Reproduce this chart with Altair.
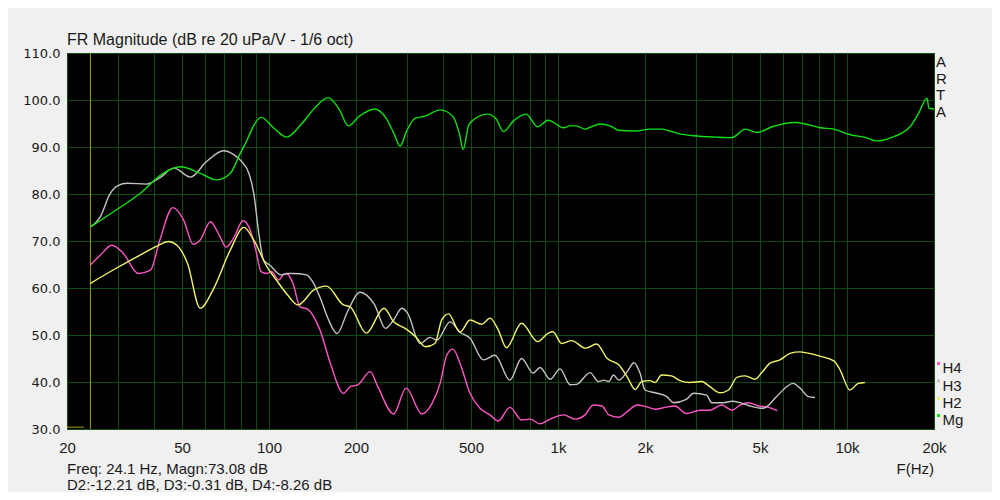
import altair as alt
import pandas as pd

W, H = 867, 376

# ---------------- data ----------------
mg_f = [24.1, 29.6, 35.8, 43, 49.4, 57.8, 66, 73.5, 79.6, 84, 88, 94, 104, 115, 130, 145, 160, 175, 188,
        205, 232, 255, 270, 284, 300, 320, 345, 391, 433, 455, 470, 490, 508, 570, 610, 648, 700, 775,
        850, 925, 1045, 1100, 1155, 1240, 1291, 1398, 1514, 1639, 1850, 2081, 2284, 2441, 2643, 2945,
        3540, 4000, 4450, 4880, 5510, 6600, 7060, 8070, 9000, 10280, 11650, 12650, 14090, 16520, 17700,
        18930, 19200, 19740, 20000]
mg_db = [73.0, 76.6, 80.1, 84.4, 85.8, 84.4, 83.0, 84.4, 88.7, 91.5, 94.3, 96.3, 94.0, 92.1, 95.0, 98.5,
         100.5, 98.0, 94.5, 96.5, 98.1, 96.0, 93.0, 90.2, 93.5, 96.1, 96.5, 97.9, 96.5, 93.0, 89.5, 94.5,
         95.7, 97.0, 96.0, 93.3, 95.5, 97.0, 94.3, 95.7, 94.1, 94.5, 94.5, 93.8, 94.2, 94.9, 94.5, 93.5,
         93.4, 93.8, 93.8, 93.4, 92.8, 92.4, 92.1, 92.0, 93.8, 93.1, 94.3, 95.2, 95.0, 94.1, 93.8, 92.6,
         92.0, 91.3, 91.9, 94.3, 97.2, 100.4, 98.2, 98.2, 97.9]

h3_f = [24.1, 26.1, 28.2, 30, 32.3, 37.7, 42, 46.9, 53.5, 60.8, 69.6, 75, 79.6, 85.2, 88.6, 92.2, 95.7,
        100.5, 110, 116, 121, 135, 141, 150, 160, 172, 187, 206, 232, 253, 270, 288, 302, 333, 361, 381,
        423, 458, 496, 552, 605, 682, 748, 820, 867, 939, 1017, 1101, 1160, 1291, 1380, 1440, 1500, 1555,
        1625, 1735, 1832, 1922, 2000, 2200, 2380, 2510, 2780, 2945, 3270, 3400, 3730, 4000, 4264, 4618,
        5130, 5710, 6180, 6500, 6877, 7350, 7750]
h3_db = [73.0, 75.2, 80.1, 81.8, 82.3, 82.1, 83.5, 85.5, 83.6, 86.9, 89.2, 88.5, 87.2, 84.4, 80.1, 71.6,
         66.0, 64.9, 62.8, 63.1, 63.1, 62.8, 61.5, 58.1, 53.5, 50.3, 55.0, 59.1, 56.4, 51.4, 53.2, 55.7,
         54.6, 48.2, 49.5, 48.9, 52.8, 50.6, 49.3, 44.7, 45.7, 40.4, 45.0, 41.9, 43.1, 40.6, 42.8, 39.4,
         39.5, 42.0, 40.1, 40.4, 40.1, 41.5, 40.4, 42.2, 44.1, 41.9, 38.3, 37.6, 36.9, 35.6, 36.3, 37.6,
         37.2, 35.6, 35.6, 35.9, 35.6, 34.9, 34.4, 36.9, 39.0, 39.7, 38.7, 36.9, 36.7]

h4_f = [24.1, 26.1, 28.6, 31.3, 35.3, 38.9, 41.9, 46.5, 50.6, 54.7, 57.8, 62.7, 67.7, 71, 75.8, 81.3, 86.1,
        90, 93.8, 98.4, 102, 108, 112, 115, 121, 128, 136, 150, 163, 181, 191, 203, 224, 238, 270, 298, 338,
        367, 391, 412, 433, 458, 496, 537, 582, 621, 682, 748, 800, 867, 939, 1045, 1150, 1240, 1325, 1420,
        1500, 1625, 1735, 1880, 2030, 2170, 2350, 2540, 2780, 3100, 3357, 3680, 4000, 4264, 4560, 4940,
        5270, 5740]
h4_db = [64.9, 67.0, 69.1, 67.4, 63.1, 63.8, 70.2, 77.1, 74.5, 69.3, 70.2, 74.1, 70.9, 68.7, 70.9, 74.3,
         72.3, 68.1, 63.5, 63.1, 63.5, 61.7, 62.8, 63.1, 61.0, 56.0, 55.5, 51.1, 44.0, 37.6, 39.0, 39.4,
         42.2, 39.0, 33.2, 38.7, 33.2, 35.5, 39.7, 45.7, 47.0, 44.0, 37.6, 34.4, 33.0, 31.7, 34.6, 31.9,
         32.1, 31.1, 32.1, 33.0, 32.1, 33.0, 35.1, 34.9, 33.0, 32.5, 33.7, 35.1, 34.7, 34.2, 34.6, 34.9,
         33.3, 34.0, 34.0, 35.1, 34.0, 35.1, 35.6, 34.9, 34.7, 33.9]

h2_f = [24.1, 29.6, 35.8, 41, 44.9, 48, 52.2, 57.8, 64, 73.5, 81.8, 88.6, 98.4, 106, 116, 126, 143, 158,
        181, 191, 217, 250, 270, 296, 322, 348, 375, 396, 418, 458, 496, 545, 582, 621, 663, 748, 850, 925,
        960, 1030, 1115, 1245, 1360, 1480, 1625, 1735, 1850, 1950, 2081, 2170, 2280, 2470, 2643, 2863,
        3140, 3357, 3636, 3890, 4160, 4450, 4810, 5070, 5415, 5864, 6351, 6877, 7250, 8066, 9000, 9460,
        10230, 10940, 11530]
h2_db = [61.0, 64.2, 67.0, 68.9, 69.9, 69.1, 65.3, 55.7, 59.6, 68.1, 72.9, 70.2, 64.5, 61.7, 58.5, 56.4,
         59.6, 60.4, 56.4, 56.0, 50.4, 55.7, 52.8, 51.4, 49.6, 47.5, 48.2, 53.2, 54.5, 50.6, 53.2, 52.3,
         53.6, 51.1, 47.3, 52.5, 48.6, 50.4, 50.7, 48.2, 48.8, 47.2, 48.1, 45.0, 43.6, 41.1, 38.4, 40.1,
         40.3, 39.9, 41.5, 41.3, 40.3, 39.9, 40.1, 39.0, 37.7, 38.3, 41.0, 41.3, 40.6, 42.0, 44.0, 44.7,
         46.1, 46.4, 46.2, 45.5, 44.5, 42.6, 38.3, 39.7, 39.9]

series_names = ["H4", "H3", "H2", "Mg"]
series_colors = ["#ff55c8", "#c4c4c4", "#f4f46a", "#10e010"]

grid_freqs = [20, 30, 40, 50, 60, 70, 80, 90, 100, 200, 300, 400, 500, 600, 700, 800, 900,
              1000, 2000, 3000, 4000, 5000, 6000, 7000, 8000, 9000, 10000, 20000]
x_label_vals = [20, 50, 100, 200, 500, 1000, 2000, 5000, 10000, 20000]
y_vals = [30, 40, 50, 60, 70, 80, 90, 100, 110]

cursor_f = [24.1]
corner_seg = {"f": [20], "f2": [22.9], "db": [30.4]}

title_text = "FR Magnitude (dB re 20 uPa/V - 1/6 oct)"
status1 = "Freq: 24.1 Hz, Magn:73.08 dB"
status2 = "D2:-12.21 dB, D3:-0.31 dB, D4:-8.26 dB"
xunit = "F(Hz)"
brand = "A\nR\nT\nA"

# ---------------- build ----------------
rows = []
for name, fs, ds in [("H4", h4_f, h4_db), ("H3", h3_f, h3_db), ("H2", h2_f, h2_db), ("Mg", mg_f, mg_db)]:
    for f, d in zip(fs, ds):
        rows.append({"s": name, "f": f, "db": d})
df = pd.DataFrame(rows)

FONT = "Liberation Sans"
TXT = "#1a1a1a"
GRID = "#0f4a10"

xscale = alt.Scale(type="log", domain=[20, 20000], nice=False)
yscale = alt.Scale(domain=[30, 110], nice=False, zero=False)

label_list = "[" + ",".join(str(v) for v in x_label_vals) + "]"
X_AX = alt.Axis(values=grid_freqs, title=None, grid=True, gridColor=GRID, gridOpacity=1, gridWidth=1,
                ticks=False, tickSize=0, domain=False, labelFont=FONT, labelFontSize=15, labelColor=TXT,
                labelBaseline="middle", labelPadding=18, labelFlush=False, labelOverlap=False,
                labelExpr="indexof(" + label_list + ", datum.value) >= 0 ? "
                          "(datum.value >= 1000 ? (datum.value / 1000) + 'k' : '' + datum.value) : ''")
Y_AX = alt.Axis(values=y_vals, format=".1f", title=None, grid=True, gridColor=GRID, gridOpacity=1,
                gridWidth=1, ticks=False, tickSize=0, domain=False, labelFont="DejaVu Sans",
                labelFontSize=13, labelColor=TXT, labelPadding=7, labelFlush=False, labelOverlap=False)

cursor = alt.Chart(pd.DataFrame({"f": cursor_f})).mark_rule(color="#a0a010", strokeWidth=1).encode(
    x=alt.X("f:Q", scale=xscale, axis=X_AX)
)

corner = alt.Chart(pd.DataFrame(corner_seg)).mark_rule(color="#a0a010", strokeWidth=1).encode(
    x=alt.X("f:Q", scale=xscale, axis=X_AX), x2="f2:Q",
    y=alt.Y("db:Q", scale=yscale, axis=Y_AX)
)

lines = alt.Chart(df).mark_line(strokeWidth=1.4, interpolate="monotone", clip=True).encode(
    x=alt.X("f:Q", scale=xscale, axis=X_AX),
    y=alt.Y("db:Q", scale=yscale, axis=Y_AX),
    color=alt.Color("s:N", scale=alt.Scale(domain=series_names, range=series_colors), legend=None),
    detail="s:N",
)

one = pd.DataFrame({"a": [0]})


def label(text, x, y, size=15, align="left", font=FONT, **kw):
    return alt.Chart(one).mark_text(text=text, align=align, baseline="middle", font=font,
                                    fontSize=size, color=TXT, **kw).encode(
        x=alt.value(x), y=alt.value(y))


texts = [
    label(title_text, 0, -13, size=16),
    label(status1, 0, 416),
    label(status2, 0, 432),
    label(xunit, W, 416, align="right"),
    alt.Chart(one).mark_text(text=brand, align="left", baseline="top", font=FONT, fontSize=15,
                             color=TXT, lineBreak="\n", lineHeight=16.6).encode(
        x=alt.value(W + 2), y=alt.value(2)),
]

leg_y = [315, 332.5, 350, 367]
legend_layers = []
for name, col, ly in zip(series_names, series_colors, leg_y):
    legend_layers.append(
        alt.Chart(one).mark_rect(color=col).encode(
            x=alt.value(W + 3), x2=alt.value(W + 6), y=alt.value(ly - 6), y2=alt.value(ly - 3)))
    legend_layers.append(label(name, W + 8.5, ly))

chart = alt.layer(cursor, corner, lines, *texts, *legend_layers).properties(
    width=W, height=H,
    autosize=alt.AutoSizeParams(type="none"),
    padding={"left": 59, "top": 45, "right": 58, "bottom": 63},
    background="#f0f0f0",
).configure_view(fill="#000000", stroke="#2a8a2a", strokeWidth=1)

chart.save("out.html", embed_options={"renderer": "svg", "actions": False})
